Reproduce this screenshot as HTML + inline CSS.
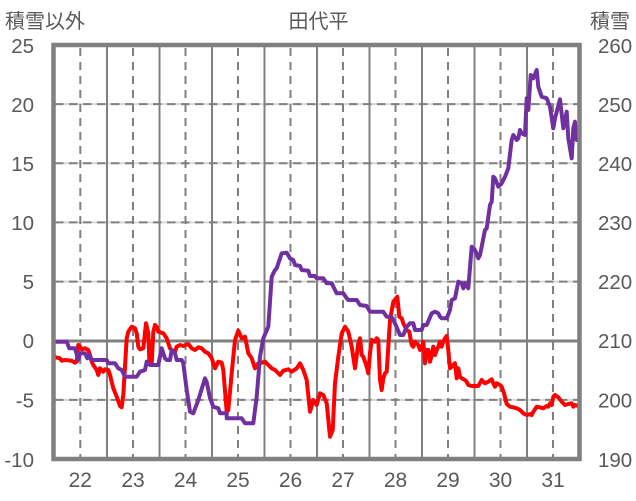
<!DOCTYPE html>
<html><head><meta charset="utf-8"><style>
html,body{margin:0;padding:0;background:#fff;}
svg{display:block;}
text{font-family:"Liberation Sans","Noto Sans CJK JP",sans-serif;fill:#595959;}
</style></head><body>
<svg width="636" height="501" viewBox="0 0 636 501" xmlns="http://www.w3.org/2000/svg">
<rect x="0" y="0" width="636" height="501" fill="#fff"/>
<!-- horizontal gridlines -->
<g stroke="#d9d9d9" stroke-width="2">
<line x1="53.5" y1="104.1" x2="579.5" y2="104.1"/>
<line x1="53.5" y1="163.3" x2="579.5" y2="163.3"/>
<line x1="53.5" y1="222.4" x2="579.5" y2="222.4"/>
<line x1="53.5" y1="281.6" x2="579.5" y2="281.6"/>
<line x1="53.5" y1="399.9" x2="579.5" y2="399.9"/>
</g>
<g stroke="#808080" stroke-width="2" stroke-dasharray="8.5 5.5">
<line x1="55" y1="104.1" x2="579.5" y2="104.1"/>
<line x1="55" y1="163.3" x2="579.5" y2="163.3"/>
<line x1="55" y1="222.4" x2="579.5" y2="222.4"/>
<line x1="55" y1="281.6" x2="579.5" y2="281.6"/>
<line x1="55" y1="399.9" x2="579.5" y2="399.9"/>
</g>
<line x1="53.5" y1="341" x2="579.5" y2="341" stroke="#808080" stroke-width="3"/>
<!-- vertical solid -->
<g stroke="#808080" stroke-width="2">
<line x1="107" y1="45" x2="107" y2="459"/>
<line x1="159.5" y1="45" x2="159.5" y2="459"/>
<line x1="212" y1="45" x2="212" y2="459"/>
<line x1="264.5" y1="45" x2="264.5" y2="459"/>
<line x1="317" y1="45" x2="317" y2="459"/>
<line x1="369.5" y1="45" x2="369.5" y2="459"/>
<line x1="422" y1="45" x2="422" y2="459"/>
<line x1="474.5" y1="45" x2="474.5" y2="459"/>
<line x1="527" y1="45" x2="527" y2="459"/>
</g>
<!-- vertical dashed -->
<g stroke="#808080" stroke-width="2" stroke-dasharray="8 6">
<line x1="80.3" y1="48" x2="80.3" y2="459"/>
<line x1="133" y1="48" x2="133" y2="459"/>
<line x1="185.5" y1="48" x2="185.5" y2="459"/>
<line x1="238" y1="48" x2="238" y2="459"/>
<line x1="290.5" y1="48" x2="290.5" y2="459"/>
<line x1="343" y1="48" x2="343" y2="459"/>
<line x1="395.5" y1="48" x2="395.5" y2="459"/>
<line x1="448" y1="48" x2="448" y2="459"/>
<line x1="500.5" y1="48" x2="500.5" y2="459"/>
<line x1="553" y1="48" x2="553" y2="459"/>
</g>
<!-- red series -->
<polyline fill="none" stroke="#ff0000" stroke-width="4" stroke-linejoin="round" stroke-linecap="round" points="54,355 55,357.3 60,358.3 61.7,360.7 65,360 71.7,360.7 75,362.7 76.7,361.7 78.3,345 80,346.7 81.7,349.3 85,348.3 88.3,350 90,355 91.7,361.7 93.3,365 96.7,370 98.3,375 100,368.3 101.7,370 103.3,371.7 105,369.3 108.3,370 110,375 113.3,388.3 116.7,396.7 120,406 121.7,407.3 123.3,395 125,366.7 126.7,338.3 128.3,331.7 131.7,326.7 135,328.3 136.7,333.3 138.3,346.7 140,349.3 143.3,348.3 146,323.3 148.3,333.3 149.3,360 151.7,363.3 153.3,331.7 155,325 156.7,326.7 158.3,331.7 163.3,333.3 166.7,338.3 168.3,343.3 170,348.3 171.7,350 175,351.7 176.7,346.7 180,345 183.3,346 188.3,344 191.7,348.3 195,350 198.3,347.3 201.7,348.3 205,351.7 208.3,353.3 211.7,358.3 215,368.3 218.3,361.7 221.7,362.7 223.3,370 226.7,411.7 228.3,410 231.7,373.3 235,340 238.3,330.7 241.7,338.3 245,336.7 248.3,353.3 251.7,358.3 255,368.3 258.3,363.3 261.7,362.7 265,361.7 268.3,365 271.7,368.3 275,370 280,375 283.3,370.7 288.3,369.3 291.7,371.7 296.7,368.3 300,363.3 303.3,370 306.7,380 310,411.7 313.3,400 316.7,405 320,393.3 323.3,395 326.7,403.3 330,436.7 332.7,430 335,383.3 338.3,356.7 341.7,333.3 345,326.7 348.3,331.7 351.7,346.7 355,368.3 358.3,343.3 360,338.3 361.7,355 363.3,356.7 366.7,366.7 368.3,373.3 370,353.3 371.7,340 375,341.7 376.7,338.3 378.3,340 380,380 381.7,390 383.3,378.3 385,373.3 386.7,371.7 388.3,346.7 390,320 393.3,301.7 397.3,296.7 399.3,316.7 401.7,318.3 403.3,323.3 406.7,330 409.3,331.7 411.7,345 413.3,346.7 415,341.7 418.3,345 420,350 421.7,348.3 423.3,341.7 425,363.3 426.7,350 428.3,350 430,361.7 431.7,355 433.3,346.7 435,355 436.7,350 438.3,346.7 440,341.7 441.7,346.7 443.3,341.7 445,338.3 446.7,336 448.3,350 450,368.3 451.7,366.7 455,363.3 456.7,378.3 458.3,368.3 460,376.7 461.7,378.3 465,380 466.7,381.7 468.3,385 471.7,386 478.3,386 481.7,380 485,383.3 488.3,381.7 491.7,379.3 493.3,383.3 495,386.7 496.7,383.3 500,385 501.7,386.7 504,393.3 506.7,404 510,406.7 513.3,407.3 516.7,408.3 520,410 523.3,413.3 526.7,415 530,414 531.7,415 533.3,411.7 536.7,406.7 540,407.3 543.3,408.3 546.7,406 548.3,406.7 550,403.3 551.7,405 553.3,396.7 555,395 558.3,397.3 561.7,401.7 565,405 568.3,404 571.7,403.3 573.3,406.7 575,405 578.3,406"/>
<!-- purple series -->
<polyline fill="none" stroke="#7030a0" stroke-width="4" stroke-linejoin="round" stroke-linecap="round" points="54,341.7 66.7,341.7 69.3,348.3 75,348.3 78.3,360 80,353.3 85,353.3 87.3,358.3 89.3,355 91.7,360 106.7,360 108.3,363.3 115,363.3 118.3,368.3 121.7,370 125,376.7 136.7,376.7 140,371.7 145,370 146.7,361.7 150,365 158.3,365 161.7,348.3 165,358.3 166.7,360 170,360 171.7,350 175,353.3 176.7,360 181.7,360 183.3,363.3 186.7,390 190,411.7 193.3,413.3 198.3,400 205,378.3 206.7,382 210,398 213.3,406.7 218.3,408.3 220,413.3 226.7,413.3 226.7,418.3 241.7,418.3 245,423.3 253.3,423.3 256.7,396.7 260,356.7 263.3,338.3 268.3,326.7 271.7,276.7 275,270 276.7,268.3 281.7,253.3 286.7,252.7 290,258.3 293.3,260 295,265 300,266 301.7,270 308.3,270.7 310,276 315,276 316.7,278.3 323.3,278.3 326.7,283.3 331.7,283.3 335,290 336.7,293.3 343.3,293.3 346.7,298.3 348.3,300 356.7,300 360,305 366.7,306 370,311.7 383.3,311.7 386.7,316.7 391.7,317.3 395,323.3 400,335 403.3,335 406.7,326.7 410,323.3 413.3,323.3 415,330 421.7,330 423.3,325 426.7,325 431.7,313.3 435,311.7 438.3,313.3 440,316.7 441.7,318.3 446.7,318.3 450,310 451.7,300 455,298.3 458.3,281.7 461.7,283.3 463.3,288.3 465,283.3 468.3,288.3 471.7,246.7 475,250 478.3,258.3 480,255 485,230 486.7,228.3 490,205 491.7,201.7 493.3,176.7 495,178.3 498.3,186.7 501.7,183.3 505,176.7 508.3,168.3 511.7,140 513.3,135 516.7,140 518.3,138.3 520,130 521.7,133.3 525,135 526.7,98.3 528.3,110 530.7,75 533.3,78.3 536.7,70 538.3,86.7 541.7,96.7 546.7,98.3 550,106.7 553.3,128.3 555,118.3 560,99.3 563.3,128.3 566.7,111.7 568.3,138.3 571.7,158.3 573.3,128.3 575,121.7 576.7,140 578.3,128.3"/>
<!-- frame -->
<rect x="53.5" y="45" width="526" height="414" fill="none" stroke="#808080" stroke-width="4.5"/>
<!-- titles -->
<text x="5" y="28" font-size="20" font-family="'Noto Sans CJK JP',sans-serif">積雪以外</text>
<text x="318.5" y="28" font-size="20" text-anchor="middle" font-family="'Noto Sans CJK JP',sans-serif">田代平</text>
<text x="590" y="28" font-size="20" font-family="'Noto Sans CJK JP',sans-serif">積雪</text>
<!-- left ticks -->
<g font-size="20.5" text-anchor="end">
<text x="34" y="53">25</text>
<text x="34" y="112">20</text>
<text x="34" y="171">15</text>
<text x="34" y="230">10</text>
<text x="34" y="289">5</text>
<text x="34" y="348">0</text>
<text x="34" y="407.5">-5</text>
<text x="34" y="467">-10</text>
</g>
<!-- right ticks -->
<g font-size="20.5">
<text x="598" y="53">260</text>
<text x="598" y="112">250</text>
<text x="598" y="171">240</text>
<text x="598" y="230">230</text>
<text x="598" y="289">220</text>
<text x="598" y="348">210</text>
<text x="598" y="407.5">200</text>
<text x="598" y="467">190</text>
</g>
<!-- bottom ticks -->
<g font-size="21" text-anchor="middle">
<text x="80.3" y="487">22</text>
<text x="133" y="487">23</text>
<text x="185.5" y="487">24</text>
<text x="238" y="487">25</text>
<text x="290.5" y="487">26</text>
<text x="343" y="487">27</text>
<text x="395.5" y="487">28</text>
<text x="448" y="487">29</text>
<text x="500.5" y="487">30</text>
<text x="553" y="487">31</text>
</g>
</svg>
</body></html>
